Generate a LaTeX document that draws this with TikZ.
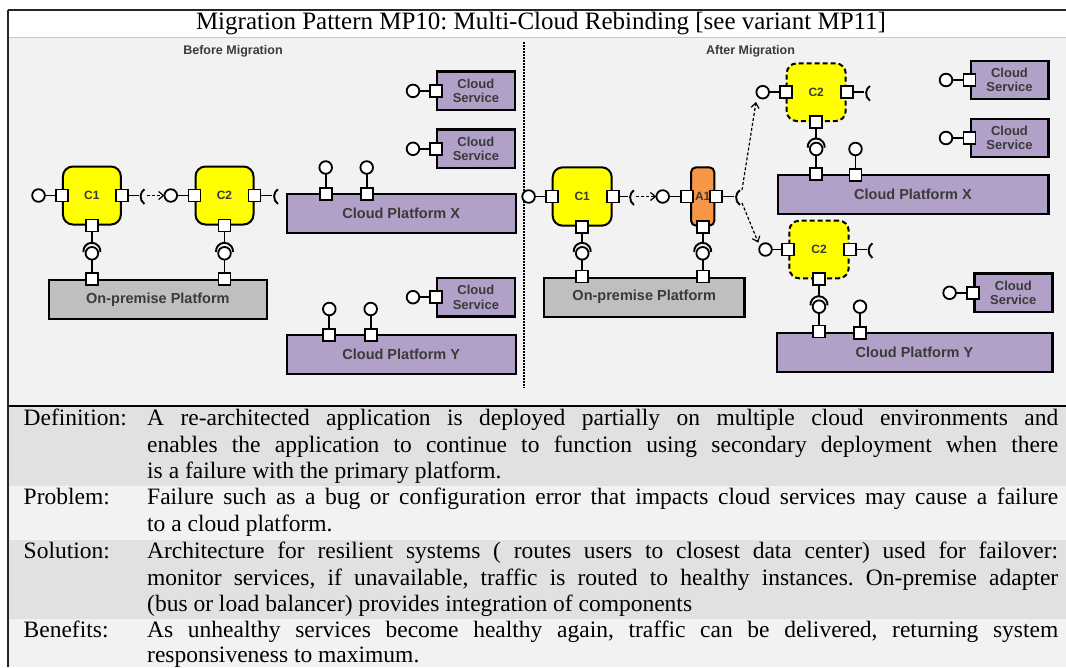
\documentclass[tikz,border=0pt]{standalone}
\usepackage{fontspec}
\setmainfont{Liberation Serif}
\newfontfamily\dsans{Liberation Sans}
\usetikzlibrary{arrows.meta}
\definecolor{bgd}{HTML}{F2F2F2}
\definecolor{rowd}{HTML}{E1E1E1}
\definecolor{plat}{HTML}{B1A0C7}
\definecolor{prem}{HTML}{BFBFBF}
\definecolor{orng}{HTML}{F79646}
\definecolor{ylw}{HTML}{FFFF00}
\definecolor{lbl}{HTML}{3A3A3A}
\definecolor{sepline}{HTML}{C8C8C8}
\frenchspacing
\begin{document}
\begin{tikzpicture}[x=1pt,y=-1pt,
 port/.style={draw=black, fill=white, line width=1.8pt, minimum size=12pt, inner sep=0pt, outer sep=0pt},
 ball/.style={circle, draw=black, fill=white, line width=1.8pt, minimum size=12.6pt, inner sep=0pt, outer sep=0pt},
 wire/.style={line width=1.9pt, draw=black},
 comp/.style={draw=black, fill=ylw, line width=2pt, rounded corners=10pt, minimum width=58pt, minimum height=58pt, inner sep=0pt, font=\dsans\bfseries\fontsize{12}{14}\selectfont, text=lbl},
 newcomp/.style={comp, dash pattern=on 5pt off 3pt},
 adapter/.style={comp, fill=orng, rounded corners=5pt, minimum width=23.3pt},
 platbox/.style={draw=black, fill=plat, line width=2.4pt, inner sep=0pt, font=\dsans\bfseries\fontsize{14.5}{16}\selectfont, text=lbl},
 prembox/.style={platbox, fill=prem},
 svc/.style={platbox, minimum width=78pt, minimum height=38.5pt, align=center, font=\dsans\bfseries\fontsize{13}{14.3}\selectfont},
 phase/.style={font=\dsans\bfseries\fontsize{12.5}{14}\selectfont, text=lbl, inner sep=0pt},
 flow/.style={line width=1.2pt, dash pattern=on 3pt off 2pt, -{Straight Barb[length=5pt,width=8pt]}},
 tlabel/.style={anchor=base west, inner sep=0pt, font=\fontsize{23.5}{26.5}\selectfont},
]
\useasboundingbox (0,0) rectangle (1066,667);
% ---------- table background ----------
\fill[white] (0,0) rectangle (1066,667);
\fill[bgd] (8,37) rectangle (1066,406);
\fill[rowd] (8,406) rectangle (1066,486);
\fill[bgd] (8,486) rectangle (1066,540);
\fill[rowd] (8,540) rectangle (1066,619);
\fill[bgd] (8,619) rectangle (1066,667);
\draw[sepline, line width=0.8pt] (8,37) -- (1066,37);
\draw[black, line width=1.2pt] (8,406) -- (1066,406);
\draw[black!85, line width=1.2pt] (8,10) -- (1066,10);
\draw[black!85, line width=1.5pt] (8,10) -- (8,667);
\node[anchor=base, inner sep=0pt, font=\fontsize{25}{28}\selectfont] (title) at (541,29) {Migration Pattern MP10: Multi-Cloud Rebinding [see variant MP11]};

% ---------- separator & headings ----------
\draw[line width=1.5pt, dash pattern=on 1.5pt off 1.5pt] (524,42) -- (524,388);
\node[phase] (hBefore) at (233,51) {Before Migration};
\node[phase] (hAfter) at (750.5,51.5) {After Migration};

% ================= LEFT: before =================
\node[comp] (lC1) at (91.9,195.5) {C1};
\node[comp] (lC2) at (224.5,195.5) {C2};
\node[prembox, minimum width=217.7pt, minimum height=39pt] (lPrem) at (157.9,299.5) {On-premise Platform};
\node[svc] (lS1) at (475.9,90.9) {Cloud\\Service};
\node[svc] (lS2) at (475.9,148.8) {Cloud\\Service};
\node[svc] (lS3) at (475.9,297.2) {Cloud\\Service};
\node[platbox, minimum width=229pt, minimum height=38.7pt] (lPX) at (401.2,213.4) {Cloud Platform X};
\node[platbox, minimum width=229pt, minimum height=39pt] (lPY) at (401.2,354.5) {Cloud Platform Y};

\coordinate (lC1k) at (138.5,195.5);
\coordinate (lC2k) at (272,195.5);
\coordinate (lJ1t) at (91.9,242.8);
\coordinate (lJ2t) at (224.5,242.8);
\draw[wire] (lC1k) ++(5.92,8.46) arc[start angle=125,end angle=235,radius=9];
\draw[wire] (lC2k) ++(5.92,8.46) arc[start angle=125,end angle=235,radius=9];
\draw[wire] (lJ1t) ++(-8.5,9.2) arc[start angle=175,end angle=365,radius=8.5];
\draw[wire] (lJ2t) ++(-8.5,9.2) arc[start angle=175,end angle=365,radius=8.5];

\node[port] (lC1w) at (lC1.west) {};
\node[port] (lC1e) at (lC1.east) {};
\node[port] (lC1s) at (lC1.south) {};
\node[port] (lC2w) at (lC2.west) {};
\node[port] (lC2e) at (lC2.east) {};
\node[port] (lC2s) at (lC2.south) {};
\node[port] (lPremA) at (lC1.south |- lPrem.north) {};
\node[port] (lPremB) at (lC2.south |- lPrem.north) {};
\node[port] (lS1p) at (lS1.west) {};
\node[port] (lS2p) at (lS2.west) {};
\node[port] (lS3p) at (lS3.west) {};
\node[port] (lPXa) at (325.7,194) {};
\node[port] (lPXb) at (366.7,194) {};
\node[port] (lPYa) at (329.3,335) {};
\node[port] (lPYb) at (370.7,335) {};

\node[ball] (lC1b) at (38.5,195.5) {};
\node[ball] (lC2b) at (170.8,195.5) {};
\node[ball] (lJ1) at (91.9,253.3) {};
\node[ball] (lJ2) at (224.5,253.3) {};
\node[ball] (lS1b) at (413,90.9) {};
\node[ball] (lS2b) at (413,148.8) {};
\node[ball] (lS3b) at (413,297.2) {};
\node[ball] (lPXab) at (325.7,167.5) {};
\node[ball] (lPXbb) at (366.7,167.5) {};
\node[ball] (lPYab) at (329.3,309) {};
\node[ball] (lPYbb) at (370.7,309) {};

\draw[wire] (lC1b) -- (lC1w);
\draw[wire] (lC1e) -- (lC1k);
\draw[flow, shorten <=8pt] (lC1k) -- (lC2b);
\draw[wire] (lC2b) -- (lC2w);
\draw[wire] (lC2e) -- (lC2k);
\draw[wire] (lC1s) -- (lJ1t);
\draw[wire] (lC2s) -- (lJ2t);
\draw[wire] (lJ1) -- (lPremA);
\draw[wire] (lJ2) -- (lPremB);
\draw[wire] (lS1b) -- (lS1p);
\draw[wire] (lS2b) -- (lS2p);
\draw[wire] (lS3b) -- (lS3p);
\draw[wire] (lPXab) -- (lPXa);
\draw[wire] (lPXbb) -- (lPXb);
\draw[wire] (lPYab) -- (lPYa);
\draw[wire] (lPYbb) -- (lPYb);

% ================= RIGHT: after =================
\node[comp, minimum width=59pt, minimum height=58.4pt] (rC1) at (582.2,196.5) {C1};
\node[adapter, minimum height=58.4pt] (rA1) at (702.7,196.5) {A1};
\node[newcomp, minimum width=59pt, minimum height=57.7pt] (rC2u) at (816.2,92.2) {C2};
\node[newcomp, minimum width=59.4pt, minimum height=57.6pt] (rC2l) at (819,249.5) {C2};
\node[prembox, minimum width=200.3pt, minimum height=39pt] (rPrem) at (644.2,297.2) {On-premise Platform};
\node[platbox, minimum width=270.6pt, minimum height=39pt] (rPX) at (913,194.5) {Cloud Platform X};
\node[platbox, minimum width=275.6pt, minimum height=39pt] (rPY) at (914.5,352.2) {Cloud Platform Y};
\node[svc, minimum width=77.6pt] (rS1) at (1009.5,80) {Cloud\\Service};
\node[svc, minimum width=77.6pt] (rS2) at (1009.5,138) {Cloud\\Service};
\node[svc] (rS3) at (1013.3,292.8) {Cloud\\Service};

\coordinate (rC1k) at (628,196.5);
\coordinate (rA1k) at (734,196.5);
\coordinate (rC2uk) at (864,92.2);
\coordinate (rC2lk) at (866.5,249.5);
\coordinate (rJ1t) at (582.2,242.8);
\coordinate (rJ2t) at (702.7,242.8);
\coordinate (rJ3t) at (816.2,138.5);
\coordinate (rJ4t) at (819,296.2);
\draw[wire] (rC1k) ++(5.92,8.46) arc[start angle=125,end angle=235,radius=9];
\draw[wire] (rA1k) ++(5.92,8.46) arc[start angle=125,end angle=235,radius=9];
\draw[wire] (rC2uk) ++(5.92,8.46) arc[start angle=125,end angle=235,radius=9];
\draw[wire] (rC2lk) ++(5.92,8.46) arc[start angle=125,end angle=235,radius=9];
\draw[wire] (rJ1t) ++(-8.5,9.2) arc[start angle=175,end angle=365,radius=8.5];
\draw[wire] (rJ2t) ++(-8.5,9.2) arc[start angle=175,end angle=365,radius=8.5];
\draw[wire] (rJ3t) ++(-8.5,9.2) arc[start angle=175,end angle=365,radius=8.5];
\draw[wire] (rJ4t) ++(-8.5,9.2) arc[start angle=175,end angle=365,radius=8.5];

\node[port] (rC1w) at (rC1.west) {};
\node[port] (rC1e) at (rC1.east) {};
\node[port] (rC1s) at (rC1.south) {};
\node[port] (rA1w) at (687,196.5) {};
\node[port] (rA1e) at (716,196.5) {};
\node[port] (rA1s) at (rA1.south) {};
\node[port] (rC2uw) at (rC2u.west) {};
\node[port] (rC2ue) at (rC2u.east) {};
\node[port] (rC2us) at (rC2u.south) {};
\node[port] (rC2lw) at (rC2l.west) {};
\node[port] (rC2le) at (rC2l.east) {};
\node[port] (rC2ls) at (rC2l.south) {};
\node[port] (rPremA) at (rC1.south |- rPrem.north) {};
\node[port] (rPremB) at (rA1.south |- rPrem.north) {};
\node[port] (rPXa) at (rC2u.south |- rPX.north) {};
\node[port] (rPXb) at (855.5,175) {};
\node[port] (rPYa) at (rC2l.south |- rPY.north) {};
\node[port] (rPYb) at (860,332.7) {};
\node[port] (rS1p) at (rS1.west) {};
\node[port] (rS2p) at (rS2.west) {};
\node[port] (rS3p) at (rS3.west) {};

\node[ball] (rC1b) at (528.6,196.5) {};
\node[ball] (rA1b) at (662.7,196.5) {};
\node[ball] (rC2ub) at (762.7,92.2) {};
\node[ball] (rC2lb) at (765.5,249.5) {};
\node[ball] (rJ1) at (582.2,253.3) {};
\node[ball] (rJ2) at (702.7,253.3) {};
\node[ball] (rJ3) at (816.2,149) {};
\node[ball] (rJ4) at (819,306.7) {};
\node[ball] (rPXbb) at (855.5,149) {};
\node[ball] (rPYbb) at (860,306.7) {};
\node[ball] (rS1b) at (946,80) {};
\node[ball] (rS2b) at (946,138) {};
\node[ball] (rS3b) at (949.6,292.8) {};

\coordinate (rA1kU) at (742,190);
\coordinate (rA1kL) at (742,203);
\coordinate (tipU) at (756,102);
\coordinate (tipL) at (758.3,242.7);

\draw[wire] (rC1b) -- (rC1w);
\draw[wire] (rC1e) -- (rC1k);
\draw[flow, shorten <=8pt] (rC1k) -- (rA1b);
\draw[wire] (rA1b) -- (rA1w);
\draw[wire] (rA1e) -- (rA1k);
\draw[flow] (rA1kU) -- (tipU);
\draw[flow] (rA1kL) -- (tipL);
\draw[wire] (rC2ub) -- (rC2uw);
\draw[wire] (rC2ue) -- (rC2uk);
\draw[wire] (rC2lb) -- (rC2lw);
\draw[wire] (rC2le) -- (rC2lk);
\draw[wire] (rC1s) -- (rJ1t);
\draw[wire] (rA1s) -- (rJ2t);
\draw[wire] (rC2us) -- (rJ3t);
\draw[wire] (rC2ls) -- (rJ4t);
\draw[wire] (rJ1) -- (rPremA);
\draw[wire] (rJ2) -- (rPremB);
\draw[wire] (rJ3) -- (rPXa);
\draw[wire] (rJ4) -- (rPYa);
\draw[wire] (rPXbb) -- (rPXb);
\draw[wire] (rPYbb) -- (rPYb);
\draw[wire] (rS1b) -- (rS1p);
\draw[wire] (rS2b) -- (rS2p);
\draw[wire] (rS3b) -- (rS3p);

% ---------- table text ----------
\node[tlabel] (kDef) at (23.5,425.5) {Definition:};
\node[tlabel] (tDef1) at (147,425.5) {\makebox[911pt][s]{A re-architected application is deployed partially on multiple cloud environments and}};
\node[tlabel] (tDef2) at (147,452) {\makebox[911pt][s]{enables the application to continue to function using secondary deployment when there}};
\node[tlabel] (tDef3) at (147,478.5) {is a failure with the primary platform.};
\node[tlabel] (kPro) at (23.5,504.6) {Problem:};
\node[tlabel] (tPro1) at (147,504.6) {\makebox[911pt][s]{Failure such as a bug or configuration error that impacts cloud services may cause a failure}};
\node[tlabel] (tPro2) at (147,531.1) {to a cloud platform.};
\node[tlabel] (kSol) at (23.5,558.6) {Solution:};
\node[tlabel] (tSol1) at (147,558.6) {\makebox[911pt][s]{Architecture for resilient systems ( routes users to closest data center) used for failover:}};
\node[tlabel] (tSol2) at (147,585.1) {\makebox[911pt][s]{monitor services, if unavailable, traffic is routed to healthy instances. On-premise adapter}};
\node[tlabel] (tSol3) at (147,611.6) {(bus or load balancer) provides integration of components};
\node[tlabel] (kBen) at (23.5,637.6) {Benefits:};
\node[tlabel] (tBen1) at (147,637.6) {\makebox[911pt][s]{As unhealthy services become healthy again, traffic can be delivered, returning system}};
\node[tlabel] (tBen2) at (147,662.3) {responsiveness to maximum.};
\end{tikzpicture}
\end{document}
